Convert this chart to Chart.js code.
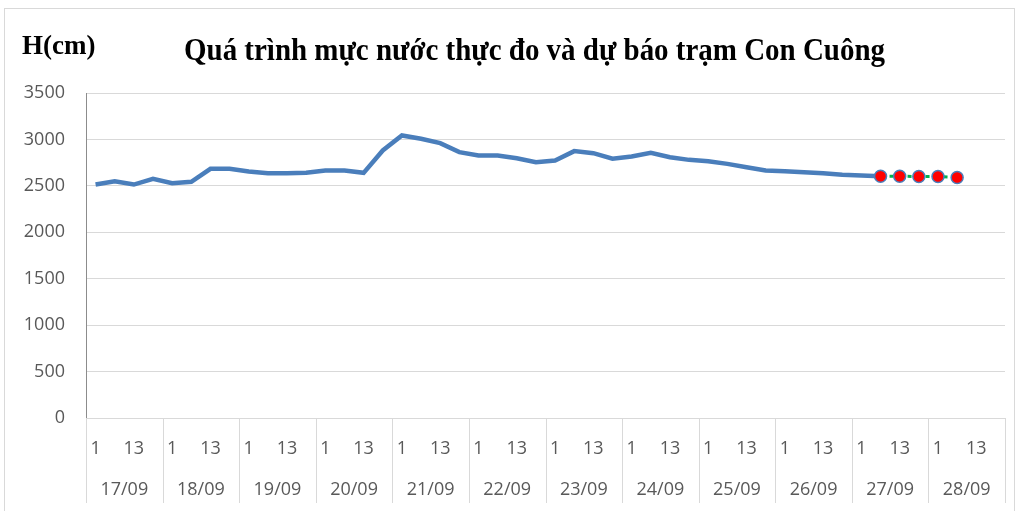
<!DOCTYPE html>
<html>
<head>
<meta charset="utf-8">
<script src="https://cdn.jsdelivr.net/npm/chart.js@4"></script>
<style>
  html, body { margin: 0; padding: 0; background: #fff; }
  body { width: 1021px; height: 511px; position: relative; overflow: hidden; }
  #frame { position: absolute; left: 4px; top: 8px; width: 1011px; height: 530px; border: 1px solid #d9d9d9; box-sizing: border-box; }
  #chartBox { position: absolute; left: 0; top: 0; width: 1021px; height: 511px; }
  .lbl { position: absolute; font-family: "Liberation Serif", "Times New Roman", serif; font-weight: bold; color: #000; white-space: nowrap; line-height: 1; transform-origin: left top; }
  #unit { left: 22px; top: 32px; font-size: 27px; }
  #title { left: 184px; top: 33px; font-size: 32px; transform: scaleX(0.905); }
</style>
</head>
<body>
<div id="frame"></div>
<div id="chartBox"><canvas id="levelChart" width="1021" height="511"></canvas></div>
<div class="lbl" id="unit">H(cm)</div>
<div class="lbl" id="title">Quá trình mực nước thực đo và dự báo trạm Con Cuông</div>
<script>
// ngày và giờ quan trắc
const dates = ['17/09', '18/09', '19/09', '20/09', '21/09', '22/09', '23/09', '24/09', '25/09', '26/09', '27/09', '28/09'];
const hours = ['1', '7', '13', '19'];

// mực nước thực đo (cm), từ 1h 17/09 đến 7h 27/09
const observed = [2514, 2550, 2514, 2575, 2528, 2543, 2683, 2683, 2654, 2636, 2636, 2640,
                  2665, 2665, 2640, 2881, 3043, 3007, 2960, 2863, 2827, 2827, 2798, 2755,
                  2773, 2874, 2852, 2792, 2816, 2856, 2809, 2780, 2766, 2737, 2701, 2665,
                  2658, 2647, 2636, 2619, 2611, 2604];

// mực nước dự báo (cm), từ 7h 27/09 đến 7h 28/09
const forecast = [2604, 2604, 2600, 2600, 2590];
const forecastStart = 41;

const yTicks = [0, 500, 1000, 1500, 2000, 2500, 3000, 3500];

const labels = [];
dates.forEach(d => hours.forEach(h => labels.push(h)));

const observedSeries = labels.map((_, i) => i < observed.length ? observed[i] : null);
const forecastSeries = labels.map((_, i) => {
    const k = i - forecastStart;
    return k >= 0 && k < forecast.length ? forecast[k] : null;
});

const tickFont = { family: '"Open Sans", "Liberation Sans", sans-serif', size: 18 };
const tickColor = '#595959';

// đường kẻ phân cách giữa các ngày ở vùng nhãn trục hoành
const daySeparators = {
    id: 'daySeparators',
    afterDraw(chart) {
        const x2 = chart.scales.x2;
        const ctx = chart.ctx;
        ctx.save();
        ctx.strokeStyle = '#d9d9d9';
        ctx.lineWidth = 1;
        for (let i = 0; i <= dates.length; i++) {
            const px = Math.round(x2.left + i * x2.width / dates.length) + 0.5;
            ctx.beginPath();
            ctx.moveTo(px, chart.chartArea.bottom);
            ctx.lineTo(px, x2.bottom);
            ctx.stroke();
        }
        ctx.restore();
    }
};

new Chart(document.getElementById('levelChart').getContext('2d'), {
    type: 'line',
    data: {
        labels: labels,
        datasets: [{
            label: 'Dự báo',
            data: forecastSeries,
            borderColor: '#00b050',
            borderWidth: 3,
            borderDash: [4, 5],
            pointRadius: 6,
            pointBackgroundColor: '#ff0000',
            pointBorderColor: '#4a7ebb',
            pointBorderWidth: 1.5,
            tension: 0,
            spanGaps: false
        }, {
            label: 'Thực đo',
            data: observedSeries,
            borderColor: '#4a7ebb',
            borderWidth: 4.5,
            pointRadius: 0,
            tension: 0,
            spanGaps: false
        }]
    },
    options: {
        responsive: false,
        animation: false,
        layout: { padding: { left: 4, top: 93, right: 16, bottom: 8 } },
        plugins: {
            legend: { display: false },
            tooltip: { enabled: false }
        },
        scales: {
            y: {
                min: 0,
                max: 3500,
                afterBuildTicks: scale => { scale.ticks = yTicks.map(v => ({ value: v })); },
                afterFit: scale => { scale.width = 82; },
                grid: { color: '#d9d9d9', drawTicks: false },
                border: { display: true, color: '#8c8c8c', width: 1 },
                ticks: { font: tickFont, color: tickColor, padding: 21, callback: v => String(v) }
            },
            x: {
                type: 'category',
                position: 'bottom',
                offset: true,
                afterFit: scale => { scale.height = 44; },
                grid: { display: false, offset: true },
                border: { display: true, color: '#d9d9d9', width: 1 },
                ticks: {
                    font: tickFont,
                    color: tickColor,
                    autoSkip: false,
                    maxRotation: 0,
                    padding: 12,
                    callback: (v, i) => (i % 2 === 0 ? labels[i] : '')
                }
            },
            x2: {
                type: 'category',
                position: 'bottom',
                labels: dates,
                offset: true,
                afterFit: scale => { scale.height = 41; },
                grid: { display: false, offset: true },
                border: { display: false },
                ticks: {
                    font: tickFont,
                    color: tickColor,
                    autoSkip: false,
                    maxRotation: 0,
                    padding: 9
                }
            }
        }
    },
    plugins: [daySeparators]
});
</script>
</body>
</html>
